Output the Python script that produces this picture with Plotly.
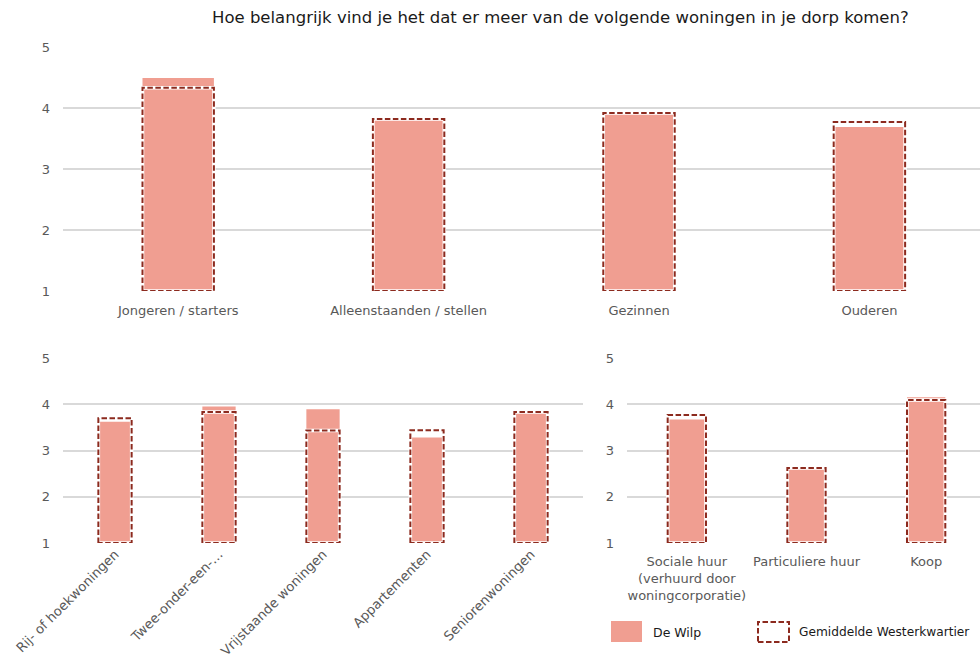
import plotly.graph_objects as go

# Category labels per panel
doelgroepen = ["Jongeren / starters", "Alleenstaanden / stellen", "Gezinnen", "Ouderen"]
woningtypen = ["Rij- of hoekwoningen", "Twee-onder-een-…", "Vrijstaande woningen",
               "Appartementen", "Seniorenwoningen"]
eigendom = ["Sociale huur<br>(verhuurd door<br>woningcorporatie)", "Particuliere huur", "Koop"]

# Average scores (1-5)
wilp_doelgroepen = [4.49, 3.82, 3.92, 3.69]
wk_doelgroepen = [4.33, 3.82, 3.92, 3.77]

wilp_woningtypen = [3.62, 3.95, 3.89, 3.28, 3.83]
wk_woningtypen = [3.70, 3.83, 3.43, 3.44, 3.83]

wilp_eigendom = [3.67, 2.62, 4.15]
wk_eigendom = [3.77, 2.62, 4.09]

y_ticks = [1, 2, 3, 4, 5]

TITLE = "Hoe belangrijk vind je het dat er meer van de volgende woningen in je dorp komen?"
SERIES = ["De Wilp", "Gemiddelde Westerkwartier"]

FILL = "#F09E91"
DASH_COLOR = "#8C2A1E"
GRID = "#D9D9D9"
TICK_COLOR = "#595959"
FONT = "DejaVu Sans"

W, H = 980, 659

fig = go.Figure()


def outline_path(values, width):
    xs, ys = [], []
    for i, v in enumerate(values):
        l, r = i - width / 2, i + width / 2
        xs += [l, l, r, r, l, None]
        ys += [1, v, v, 1, 1, None]
    return xs, ys


panels = [
    (doelgroepen, wilp_doelgroepen, wk_doelgroepen, "x", "y", 0.31),
    (woningtypen, wilp_woningtypen, wk_woningtypen, "x2", "y2", 0.32),
    (eigendom, wilp_eigendom, wk_eigendom, "x3", "y3", 0.32),
]

for cats, wilp, wk, xa, ya, bw in panels:
    pos = list(range(len(cats)))
    fig.add_trace(go.Bar(
        x=pos, y=wilp, width=bw, marker=dict(color=FILL, line=dict(width=0)),
        name=SERIES[0], xaxis=xa, yaxis=ya, showlegend=False,
    ))
    ox, oy = outline_path(wk, bw)
    fig.add_trace(go.Scatter(
        x=ox, y=oy, mode="lines", line=dict(color="white", width=3.5),
        xaxis=xa, yaxis=ya, showlegend=False, hoverinfo="skip", cliponaxis=False,
    ))
    fig.add_trace(go.Scatter(
        x=ox, y=oy, mode="lines", name=SERIES[1],
        line=dict(color=DASH_COLOR, width=2, dash="5.5px,2.5px"),
        xaxis=xa, yaxis=ya, showlegend=False, cliponaxis=False,
    ))


def px_x(p):
    return p / W


def px_y(p):
    return 1 - p / H


common_y = dict(
    range=[1, 5], tickvals=y_ticks, showgrid=True, gridcolor=GRID, gridwidth=1.5,
    zeroline=False, showline=False, ticks="", ticklabelstandoff=12, automargin=False,
    tickfont=dict(family=FONT, size=13, color=TICK_COLOR), fixedrange=True,
)
common_x = dict(
    showgrid=False, zeroline=False, showline=False, ticks="", automargin=False,
    tickfont=dict(family=FONT, size=13, color=TICK_COLOR), fixedrange=True,
)

fig.update_layout(
    width=W, height=H,
    margin=dict(l=0, r=0, t=0, b=0, autoexpand=False),
    paper_bgcolor="white", plot_bgcolor="white",
    barmode="overlay",
    font=dict(family=FONT),
    xaxis=dict(common_x, domain=[px_x(63), 1], range=[-0.5, 3.48],
               tickvals=list(range(len(doelgroepen))), ticktext=doelgroepen,
               ticklabelstandoff=10, anchor="y"),
    yaxis=dict(common_y, domain=[px_y(291), px_y(47)], anchor="x"),
    xaxis2=dict(common_x, domain=[px_x(63), px_x(583)], range=[-0.5, 4.5],
                tickvals=list(range(len(woningtypen))), ticktext=woningtypen,
                tickangle=-45, tickfont=dict(family=FONT, size=13.2, color=TICK_COLOR),
                anchor="y2"),
    yaxis2=dict(common_y, domain=[px_y(543), px_y(358)], anchor="x2"),
    xaxis3=dict(common_x, domain=[px_x(627), 1], range=[-0.5, 2.45],
                tickvals=list(range(len(eigendom))), ticktext=eigendom,
                ticklabelstandoff=9, anchor="y3"),
    yaxis3=dict(common_y, domain=[px_y(543), px_y(358)], anchor="x3"),
)

# Title
fig.add_annotation(
    text=TITLE, xref="paper", yref="paper", x=px_x(560), y=px_y(18),
    xanchor="center", yanchor="middle", showarrow=False,
    font=dict(family=FONT, size=16.5, color="#1A1A1A"),
)

# Legend drawn below the right-hand panel
fig.add_shape(type="rect", xref="paper", yref="paper",
              x0=px_x(611), x1=px_x(642), y0=px_y(642), y1=px_y(621),
              fillcolor=FILL, line=dict(width=0))
fig.add_annotation(text=SERIES[0], xref="paper", yref="paper",
                   x=px_x(651), y=px_y(632), xanchor="left", yanchor="middle",
                   showarrow=False, font=dict(family=FONT, size=12.5, color="#1A1A1A"))
fig.add_shape(type="rect", xref="paper", yref="paper",
              x0=px_x(758), x1=px_x(789), y0=px_y(642), y1=px_y(622),
              fillcolor="white", line=dict(color=DASH_COLOR, width=2, dash="5.5px,2.5px"))
fig.add_annotation(text=SERIES[1], xref="paper", yref="paper",
                   x=px_x(797), y=px_y(632), xanchor="left", yanchor="middle",
                   showarrow=False, font=dict(family=FONT, size=12.2, color="#1A1A1A"))

fig.write_html("out.html")
